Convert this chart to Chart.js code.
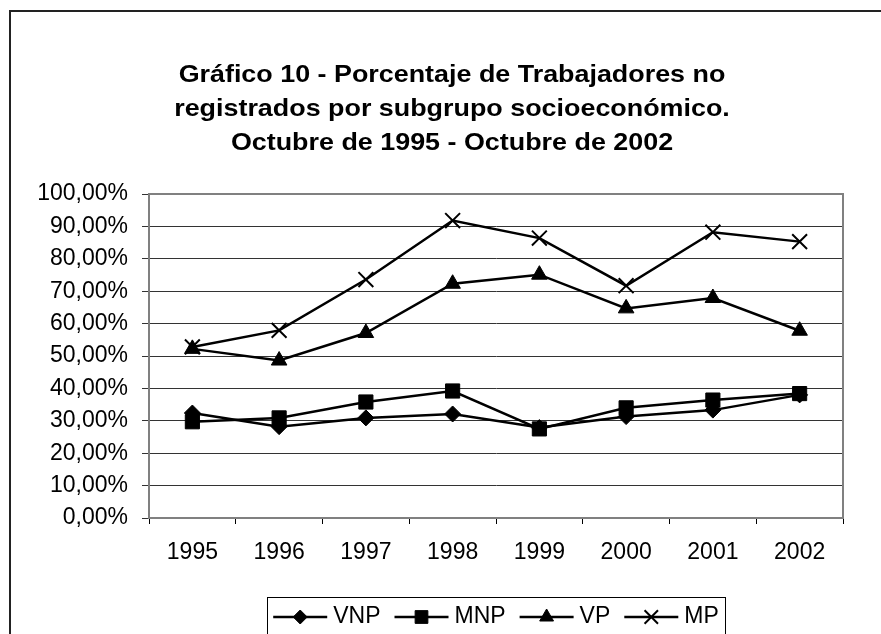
<!DOCTYPE html>
<html>
<head>
<meta charset="utf-8">
<script src="https://cdn.jsdelivr.net/npm/chart.js@4/dist/chart.umd.min.js"></script>
<style>
 body{margin:0;background:#fff}
 canvas{display:block}
</style>
</head>
<body>
<canvas id="chart" width="881" height="634"></canvas>
<script>
// years on the x axis
const years = ["1995","1996","1997","1998","1999","2000","2001","2002"]

// percentages
const vnp = [32.4, 28.2, 30.9, 32.1, 27.9, 31.3, 33.3, 38.0]
const mnp = [29.7, 30.9, 35.8, 39.2, 27.5, 34.0, 36.4, 38.4]
const vp  = [52.2, 48.6, 57.1, 72.3, 75.1, 64.7, 67.9, 57.8]
const mp  = [52.8, 57.9, 73.6, 91.8, 86.4, 71.7, 88.2, 85.3]

const seriesNames = ["VNP","MNP","VP","MP"]
const markers = ["rectRot","rect","triangle","crossRot"]
const markerSize = [8, 10, 9, 10.5]

const titleLines = ["Gráfico 10 - Porcentaje de Trabajadores no",
                    "registrados por subgrupo socioeconómico.",
                    "Octubre de 1995 - Octubre de 2002"]

const font = "Arial, 'Liberation Sans', sans-serif"

function makeSet(i, values){
 return {
  label: seriesNames[i],
  data: values,
  borderColor: "#000",
  backgroundColor: "#000",
  borderWidth: 2.5,
  pointStyle: markers[i],
  pointRadius: markerSize[i],
  pointBorderWidth: markers[i]=="crossRot" ? 2 : 1,
  pointBackgroundColor: "#000",
  pointBorderColor: "#000",
  tension: 0
 }
}

// outer frame, title, plot frame and the boxed legend
const framePlugin = {
 id: "frame",
 beforeDraw(chart){
  const c = chart.ctx
  c.save()
  c.fillStyle = "#fff"
  c.fillRect(0, 0, chart.width, chart.height)
  c.strokeStyle = "#222"
  c.lineWidth = 2
  c.strokeRect(10, 11, chart.width + 20, chart.height + 20)

  // title, a bit wider than plain Arial like the original
  c.fillStyle = "#000"
  c.font = "bold 24px " + font
  c.textAlign = "center"
  c.textBaseline = "middle"
  titleLines.forEach((t, i) => {
   c.save()
   c.translate(452, 75 + i * 34)
   c.scale(1.12, 1)
   c.fillText(t, 0, 0)
   c.restore()
  })
  c.restore()
 },
 afterDraw(chart){
  const c = chart.ctx
  const a = chart.chartArea
  c.save()
  c.strokeStyle = "#808080"
  c.lineWidth = 2
  c.beginPath()
  c.moveTo(a.left, a.top)
  c.lineTo(a.right, a.top)
  c.lineTo(a.right, a.bottom)
  c.stroke()

  // legend
  c.font = "23px " + font
  const symW = 54, gap = 6, itemGap = 14, pad = 6
  const sets = chart.data.datasets
  let total = 0
  sets.forEach((d, i) => {
   total += symW + gap + c.measureText(d.label).width
   if (i < sets.length - 1) total += itemGap
  })
  const cx = (a.left + a.right) / 2
  let x = cx - total / 2
  const y = 617
  c.strokeStyle = "#000"
  c.lineWidth = 1
  c.strokeRect(Math.round(x - pad) + 0.5, 597.5, Math.round(total + 2 * pad), 60)
  sets.forEach((d, i) => {
   c.strokeStyle = "#000"
   c.lineWidth = 2.5
   c.beginPath()
   c.moveTo(x, y)
   c.lineTo(x + symW, y)
   c.stroke()
   c.fillStyle = "#000"
   c.lineWidth = d.pointBorderWidth
   Chart.helpers.drawPoint(c, {pointStyle: d.pointStyle, radius: d.pointRadius - 1, rotation: 0, borderWidth: d.pointBorderWidth}, x + symW / 2, y)
   x += symW + gap
   c.fillStyle = "#000"
   c.textBaseline = "middle"
   c.textAlign = "left"
   c.fillText(d.label, x, y)
   x += c.measureText(d.label).width + itemGap
  })
  c.restore()
 }
}

new Chart(document.getElementById("chart"), {
 type: "line",
 data: {
  labels: years,
  datasets: [makeSet(0, vnp), makeSet(1, mnp), makeSet(2, vp), makeSet(3, mp)]
 },
 options: {
  responsive: false,
  devicePixelRatio: 1,
  animation: false,
  layout: {padding: {left: 23, right: 38, top: 194, bottom: 56}},
  plugins: {
   legend: {display: false},
   tooltip: {enabled: false},
   title: {display: false}
  },
  scales: {
   x: {
    offset: true,
    grid: {drawOnChartArea: false, tickLength: 6, color: "#000", lineWidth: 1, offset: true},
    border: {color: "#808080", width: 2},
    ticks: {color: "#000", font: {family: font, size: 23}, padding: 15, maxRotation: 0},
    afterFit(s){ s.height = 60 }
   },
   y: {
    min: 0,
    max: 100,
    grid: {color: "#333", lineWidth: 1, tickLength: 7},
    border: {color: "#808080", width: 2},
    ticks: {
     stepSize: 10,
     color: "#000",
     padding: 14,
     font: {family: font, size: 23},
     callback: v => v.toFixed(2).replace(".", ",") + "%"
    },
    afterFit(s){ s.width = 126 }
   }
  }
 },
 plugins: [framePlugin]
})
</script>
</body>
</html>
